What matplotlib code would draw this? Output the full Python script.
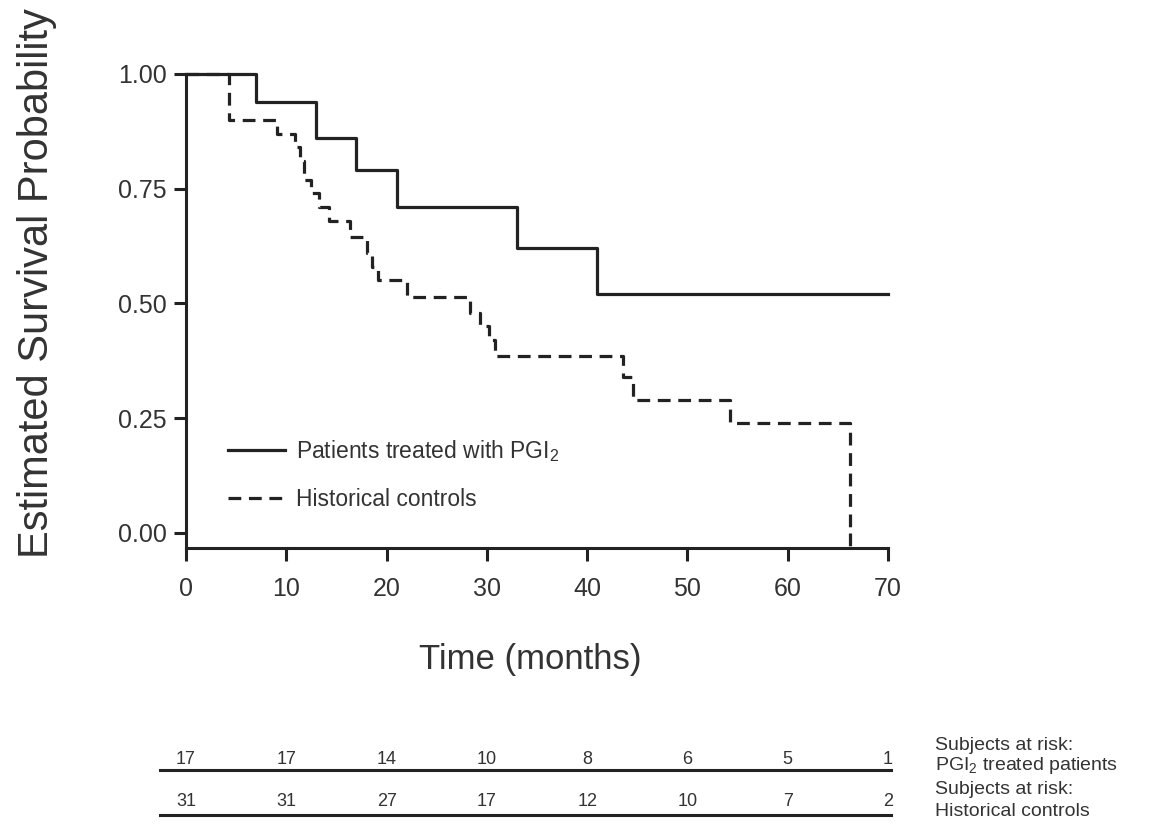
import matplotlib
matplotlib.use("Agg")
import matplotlib.pyplot as plt

# Kaplan-Meier steps
pgi_times = [0, 7, 13, 17, 21, 33, 41, 70]
pgi_surv = [1.00, 0.94, 0.86, 0.79, 0.71, 0.62, 0.52, 0.52]

ctrl_times = [0, 4.3, 9.1, 10.9, 11.4, 11.8, 12.5, 13.3, 14.3, 16.4, 18.0, 18.5,
              19.1, 22.0, 28.3, 29.3, 30.2, 30.8, 43.6, 44.6, 54.2, 66.2]
ctrl_surv = [1.00, 0.90, 0.87, 0.84, 0.81, 0.77, 0.74, 0.71, 0.68, 0.645, 0.61, 0.58,
             0.55, 0.515, 0.48, 0.45, 0.42, 0.385, 0.34, 0.29, 0.24, 0.0]

risk_times = [0, 10, 20, 30, 40, 50, 60, 70]
risk_pgi = [17, 17, 14, 10, 8, 6, 5, 1]
risk_ctrl = [31, 31, 27, 17, 12, 10, 7, 2]

x_ticks = [0, 10, 20, 30, 40, 50, 60, 70]
y_ticks = [0.0, 0.25, 0.50, 0.75, 1.00]

ink = "#222222"
txt = "#333333"

plt.rcParams["font.family"] = ["Liberation Sans", "DejaVu Sans"]
plt.rcParams["mathtext.fontset"] = "custom"
plt.rcParams["mathtext.rm"] = "Liberation Sans"
plt.rcParams["mathtext.it"] = "Liberation Sans"

W, H = 1175, 825
fig = plt.figure(figsize=(W / 100, H / 100), dpi=100)

# main axes: x 0 -> px 186, 70 -> px 888 ; y top px 74, bottom px 548
ax = fig.add_axes([186 / W, 1 - 548 / H, (888 - 186) / W, (548 - 74) / H])
ax.step(pgi_times, pgi_surv, where="post", color=ink, lw=2.3, clip_on=False,
        label="Patients treated with PGI$_2$")
ax.step(ctrl_times, ctrl_surv, where="post", color=ink, lw=2.3, clip_on=False,
        dashes=(4, 2.4), label="Historical controls")
ax.plot([66.2, 66.2], [0.0, -0.033], color=ink, lw=2.3, dashes=(4, 2.4), clip_on=False)

ax.set_xlim(0, 70)
ax.set_ylim(-0.033, 1.0)
ax.set_xticks(x_ticks)
ax.set_yticks(y_ticks)
ax.set_yticklabels([f"{v:.2f}" for v in y_ticks])
for s in ["top", "right"]:
    ax.spines[s].set_visible(False)
for s in ["left", "bottom"]:
    ax.spines[s].set_linewidth(2.2)
    ax.spines[s].set_color(ink)
ax.tick_params(axis="both", direction="out", length=9, width=2.2, color=ink,
               labelcolor=txt, labelsize=18)
ax.tick_params(axis="x", pad=12)
ax.tick_params(axis="y", pad=5)

leg = ax.legend(loc="upper left", bbox_to_anchor=(0.03, 0.275), frameon=False,
                fontsize=16.5, handlelength=2.5, handletextpad=0.5, labelspacing=1.05,
                labelcolor=txt)

fig.text(37 / W, 1 - 283 / H, "Estimated Survival Probability", rotation=90,
         ha="center", va="center", fontsize=30, color=txt)
fig.text(530 / W, 1 - 660 / H, "Time (months)", ha="center", va="center",
         fontsize=25, color=txt)

# at-risk table, y units are pixels above the figure bottom
tab = fig.add_axes([186 / W, 0, (888 - 186) / W, 100 / H])
tab.set_xlim(0, 70)
tab.set_ylim(0, 100)
tab.axis("off")
for t, n1, n2 in zip(risk_times, risk_pgi, risk_ctrl):
    tab.text(t, 66, str(n1), ha="center", va="center", fontsize=13, color=txt)
    tab.text(t, 23, str(n2), ha="center", va="center", fontsize=13, color=txt)
tab.plot([-2.6, 70.3], [55, 55], color=ink, lw=2.2, clip_on=False)
tab.plot([-2.6, 70.3], [10, 10], color=ink, lw=2.2, clip_on=False)
side_labels = [(80, "Subjects at risk:"), (59, "PGI$_2$ treated patients"),
               (35, "Subjects at risk:"), (13, "Historical controls")]
for yy, s in side_labels:
    tab.text(74.7, yy, s, ha="left", va="center", fontsize=14, color=txt, clip_on=False)

fig.savefig("out.png", dpi=100)
